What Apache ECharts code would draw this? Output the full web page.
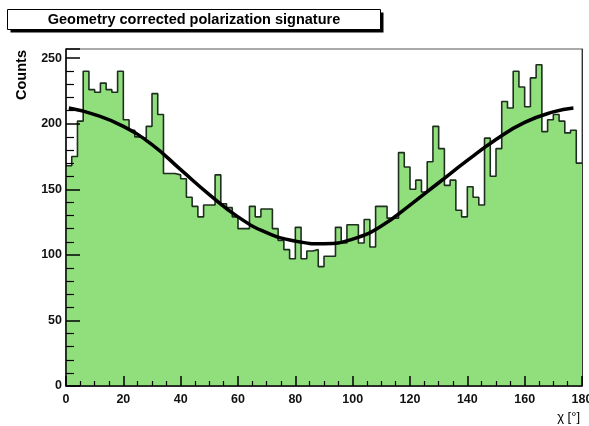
<!DOCTYPE html>
<html><head><meta charset="utf-8">
<script src="https://cdn.jsdelivr.net/npm/echarts@6/dist/echarts.min.js"></script>
<style>html,body{margin:0;padding:0;background:#fff}#c{width:589px;height:426px}</style>
</head><body><div id="c"></div>
<script>
const titleText = 'Geometry corrected polarization signature';
const yAxisTitle = 'Counts';
const xAxisTitle = 'χ [°]';
const binWidth = 2;
const counts = [
168,175,202,240,226,224,231,226,224,240,
203,195,190,189,198,223,207,162,162,161,
158,144,137,129,138,138,161,139,136,129,
120,120,137,129,135,135,120,111,104,97,
121,97,103,104,91,99,99,121,109,123,
123,109,127,106,137,137,128,128,178,167,
150,157,148,171,198,181,153,157,134,129,
152,144,138,189,160,181,217,212,240,228,
213,235,245,194,203,207,202,193,195,170
];
const fitX = [1,10,20,30,40,50,60,70,80,90,100,110,120,130,140,150,160,170,177];
const fitY = [212,207,198,184,165,146,129,117,110.5,108.5,112,122,138,155,172,188,201,209,212];

const histData = counts.map((c, i) => [i * binWidth, c]);
histData.push([counts.length * binWidth, counts[counts.length - 1]]);
const fitData = fitX.map((x, i) => [x, fitY[i]]);

const FONT = '"Liberation Sans", Arial, Helvetica, sans-serif';
const chart = echarts.init(document.getElementById('c'), null, {renderer: 'canvas'});
chart.setOption({
  animation: false,
  textStyle: {fontFamily: FONT},
  grid: {left: 66, right: 7, top: 49, bottom: 40, show: true, borderColor: '#555', borderWidth: 1, backgroundColor: '#fff', containLabel: false, outerBoundsMode: 'none'},
  xAxis: [{
    type: 'value', min: 0, max: 180, interval: 20, z: 10,
    axisLine: {show: true, onZero: false, lineStyle: {color: '#000', width: 1.5}},
    axisTick: {show: true, inside: true, length: 10, lineStyle: {color: '#000', width: 1.5}},
    minorTick: {show: true, splitNumber: 4, length: 5, lineStyle: {color: '#000', width: 1.2}},
    splitLine: {show: false},
    axisLabel: {color: '#111', fontSize: 12.5, fontWeight: 'bold', margin: 7, fontFamily: FONT, hideOverlap: false}
  }],
  yAxis: [{
    type: 'value', min: 0, max: 257, interval: 50, z: 10,
    axisLine: {show: true, onZero: false, lineStyle: {color: '#000', width: 1.5}},
    axisTick: {show: true, inside: true, length: 14, lineStyle: {color: '#000', width: 1.5}},
    minorTick: {show: true, splitNumber: 5, length: 8, lineStyle: {color: '#000', width: 1.2}},
    splitLine: {show: false},
    axisLabel: {color: '#111', fontSize: 12.5, fontWeight: 'bold', margin: 4, showMaxLabel: false, fontFamily: FONT}
  }, {
    type: 'value', position: 'right', min: 0, max: 257, z: 10,
    axisLine: {show: true, onZero: false, lineStyle: {color: '#333', width: 1}},
    axisTick: {show: false}, axisLabel: {show: false}, splitLine: {show: false}
  }],
  series: [{
    type: 'line', step: 'end', data: histData, symbol: 'none', showSymbol: false,
    lineStyle: {color: '#1f2f1f', width: 1.6},
    areaStyle: {color: '#90de7c', opacity: 1},
    emphasis: {disabled: true}, z: 2
  }, {
    type: 'line', data: fitData, smooth: 0.5, symbol: 'none', showSymbol: false,
    lineStyle: {color: '#000', width: 3.5},
    emphasis: {disabled: true}, z: 3
  }],
  graphic: [
    {type: 'rect', z: 100, shape: {x: 10.5, y: 12.5, width: 373, height: 20}, style: {fill: '#000'}},
    {type: 'rect', z: 101, shape: {x: 7.5, y: 9.5, width: 373, height: 20}, style: {fill: '#fff', stroke: '#000', lineWidth: 1}},
    {type: 'text', z: 102, x: 194, y: 19.5, style: {text: titleText, font: 'bold 14.5px ' + FONT, fill: '#000', align: 'center', verticalAlign: 'middle'}},
    {type: 'text', z: 102, x: 22, y: 75, rotation: Math.PI / 2, style: {text: yAxisTitle, font: 'bold 14.5px ' + FONT, fill: '#000', align: 'center', verticalAlign: 'middle'}},
    {type: 'text', z: 102, x: 580, y: 417, style: {text: xAxisTitle, font: '13px ' + FONT, fill: '#000', align: 'right', verticalAlign: 'middle'}}
  ]
});
</script></body></html>
